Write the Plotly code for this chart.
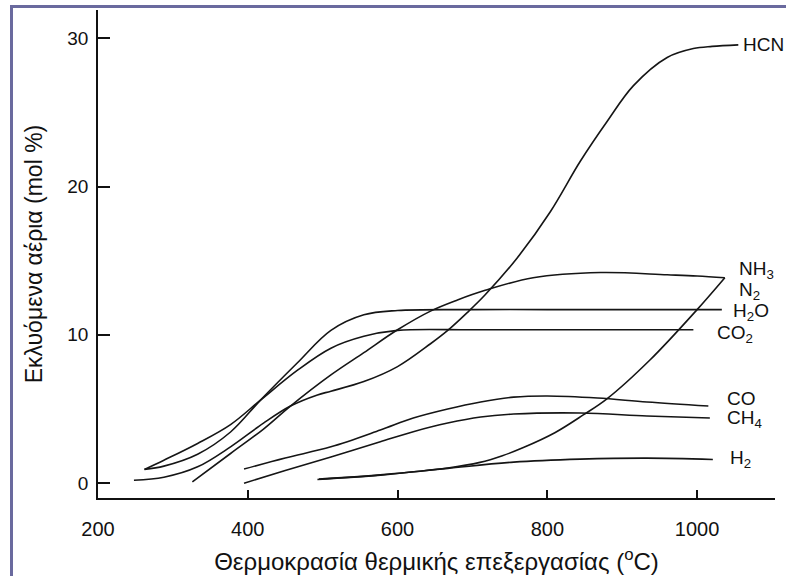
import plotly.graph_objects as go

# ---- data (temperature °C, mol %) ----
hcn_t = [248, 288, 333, 377, 421, 457, 493, 511, 555, 600, 644, 667, 693, 717, 760, 804, 844, 880, 915, 960, 995, 1020, 1055]
hcn_v = [0.2, 0.4, 1.1, 2.45, 4.05, 5.2, 5.95, 6.2, 6.85, 7.86, 9.4, 10.3, 11.5, 12.7, 15.2, 18.3, 21.7, 24.4, 26.8, 28.7, 29.3, 29.45, 29.55]

nh3_t = [326, 377, 421, 457, 511, 555, 600, 644, 680, 717, 781, 871, 960, 1000, 1037]
nh3_v = [0.09, 2.0, 3.65, 5.2, 7.3, 8.8, 10.34, 11.6, 12.35, 13.0, 13.85, 14.2, 14.05, 13.97, 13.85]

n2_t = [495, 577, 667, 710, 740, 768, 810, 848, 880, 937, 1000, 1037]
n2_v = [0.28, 0.56, 1.02, 1.4, 1.85, 2.4, 3.4, 4.6, 5.7, 8.3, 11.7, 13.85]

h2o_t = [262, 288, 333, 377, 417, 466, 511, 555, 600, 700, 800, 900, 1033]
h2o_v = [0.93, 1.15, 1.95, 3.45, 5.6, 8.1, 10.3, 11.35, 11.64, 11.7, 11.7, 11.7, 11.7]

co2_t = [262, 288, 333, 377, 417, 466, 511, 555, 600, 700, 800, 900, 995]
co2_v = [0.93, 1.55, 2.68, 3.95, 5.6, 7.6, 9.1, 9.9, 10.3, 10.34, 10.34, 10.34, 10.34]

co_t = [395, 450, 511, 577, 621, 667, 711, 755, 800, 867, 933, 1015]
co_v = [0.95, 1.7, 2.45, 3.58, 4.39, 5.0, 5.47, 5.8, 5.88, 5.74, 5.47, 5.2]

ch4_t = [395, 450, 511, 577, 621, 667, 711, 755, 844, 933, 1017]
ch4_v = [0.0, 0.85, 1.76, 2.79, 3.47, 4.05, 4.46, 4.66, 4.73, 4.53, 4.39]

h2_t = [493, 577, 667, 755, 844, 933, 1021]
h2_v = [0.25, 0.54, 1.0, 1.42, 1.62, 1.69, 1.6]

# labels: (text, x, y) in data units
label_text = ["HCN", "NH<sub>3</sub>", "N<sub>2</sub>", "H<sub>2</sub>O", "CO<sub>2</sub>", "CO", "CH<sub>4</sub>", "H<sub>2</sub>"]
label_x = [1058, 1053, 1053, 1045, 1024, 1037, 1037, 1041]
label_y = [29.55, 14.35, 12.95, 11.55, 10.05, 5.7, 4.35, 1.65]

x_ticks = [200, 400, 600, 800, 1000]
y_ticks = [0, 10, 20, 30]

x_title = "Θερμοκρασία θερμικής επεξεργασίας (<sup>o</sup>C)"
y_title = "Εκλυόμενα αέρια (mol %)"

FONT = "Liberation Sans, Arial, sans-serif"
series = [
    ("HCN", hcn_t, hcn_v), ("NH3", nh3_t, nh3_v), ("N2", n2_t, n2_v),
    ("H2O", h2o_t, h2o_v), ("CO2", co2_t, co2_v), ("CO", co_t, co_v),
    ("CH4", ch4_t, ch4_v), ("H2", h2_t, h2_v),
]

fig = go.Figure()
for name, t, v in series:
    fig.add_trace(go.Scatter(
        x=t, y=v, mode="lines", name=name,
        line=dict(color="#151515", width=1.6, shape="spline", smoothing=1.0),
        showlegend=False, hoverinfo="skip",
    ))

for txt, lx, ly in zip(label_text, label_x, label_y):
    fig.add_annotation(x=lx, y=ly, xref="x", yref="y", text=txt, showarrow=False,
                       xanchor="left", yanchor="middle",
                       font=dict(family=FONT, size=19, color="#111"))

L, R, T, B = 98, 11, 10, 78
W, H = 786, 576
pw, ph = W - L - R, H - T - B

def px_to_paper_x(px):
    return (px - L) / pw

def px_to_paper_y(py):
    return (H - B - py) / ph

border_color = "#6a6a9e"
fig.add_shape(type="line", xref="paper", yref="paper",
              x0=px_to_paper_x(11.5), x1=px_to_paper_x(11.5),
              y0=px_to_paper_y(6.5), y1=px_to_paper_y(576),
              line=dict(color=border_color, width=3))
fig.add_shape(type="line", xref="paper", yref="paper",
              x0=px_to_paper_x(10), x1=px_to_paper_x(786),
              y0=px_to_paper_y(6.5), y1=px_to_paper_y(6.5),
              line=dict(color=border_color, width=3))

fig.update_layout(
    width=W, height=H,
    margin=dict(l=L, r=R, t=T, b=B, autoexpand=False),
    paper_bgcolor="white", plot_bgcolor="white",
    font=dict(family=FONT, color="#111"),
    xaxis=dict(
        range=[200, 1104], tickvals=x_ticks, ticks="inside", ticklen=8,
        tickwidth=1.5, tickcolor="#111", showline=True, linecolor="#111",
        linewidth=1.6, showgrid=False, zeroline=False,
        tickfont=dict(size=20, family=FONT, color="#111"),
        ticklabelstandoff=12,
        title=dict(text=x_title, font=dict(size=24, family=FONT, color="#111"), standoff=14),
        automargin=False,
    ),
    yaxis=dict(
        range=[-1, 31.9], tickvals=y_ticks, ticks="inside", ticklen=12,
        tickwidth=1.5, tickcolor="#111", showline=True, linecolor="#111",
        linewidth=1.6, showgrid=False, zeroline=False,
        tickfont=dict(size=19, family=FONT, color="#111"),
        ticklabelstandoff=4,
        title=dict(text=y_title, font=dict(size=23, family=FONT, color="#111"), standoff=18),
        automargin=False,
    ),
)

fig.write_html("out.html")
